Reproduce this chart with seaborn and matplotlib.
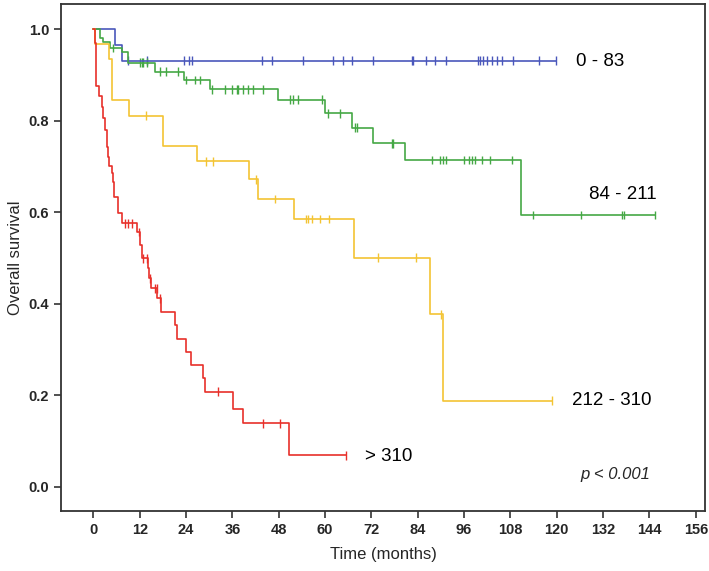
import numpy as np
import pandas as pd
import matplotlib
matplotlib.use('Agg')
import matplotlib.pyplot as plt
import seaborn as sns

GROUPS = ['0 - 83', '84 - 211', '212 - 310', '> 310']
COLORS = ['#4a57bb', '#45a845', '#f3c433', '#e8302a']

# step events: time of drop (months) and survival after the drop
blue_times  = [5.6, 7.3]
blue_surv   = [0.966, 0.931]
blue_censor = [8.9, 13.9, 23.4, 24.7, 25.5, 43.7, 46.2, 54.3, 62.0, 64.6, 67.0,
               72.4, 82.6, 82.8, 86.2, 88.5, 91.3, 99.7, 100.1, 101.0, 102.0,
               103.2, 104.5, 105.8, 108.6, 115.5, 119.8]

green_times  = [1.7, 2.5, 4.3, 7.4, 8.9, 15.9, 23.4, 30.2, 47.7, 60.0, 67.0,
                72.3, 80.7, 110.8]
green_surv   = [0.981, 0.972, 0.959, 0.951, 0.927, 0.907, 0.889, 0.869, 0.846,
                0.816, 0.785, 0.751, 0.714, 0.594]
green_censor = [5.1, 12.0, 12.5, 12.9, 13.9, 17.2, 18.8, 22.0, 24.0, 26.3, 27.6,
                30.6, 34.1, 35.8, 37.1, 37.4, 38.8, 40.1, 41.4, 43.8, 50.9, 51.8,
                53.1, 59.1, 60.8, 63.9, 67.7, 68.2, 77.3, 77.7, 87.8, 89.8, 90.5,
                91.2, 96.0, 97.4, 98.0, 98.8, 100.6, 102.7, 108.3, 113.9, 126.3,
                136.8, 137.4, 145.5]

yellow_times  = [0.3, 4.1, 4.8, 9.2, 18.1, 26.7, 40.4, 42.5, 52.0, 67.5, 87.2, 90.5]
yellow_surv   = [0.968, 0.934, 0.845, 0.811, 0.745, 0.711, 0.672, 0.629, 0.585,
                 0.501, 0.377, 0.188]
yellow_censor = [13.6, 29.1, 30.9, 42.1, 47.0, 55.1, 55.5, 56.5, 58.7, 61.0, 73.8,
                 83.5, 89.9, 118.7]

red_times  = [0.3, 0.6, 0.8, 1.5, 2.1, 2.6, 3.0, 3.4, 3.8, 4.1, 4.7, 5.1, 5.4,
              6.3, 7.3, 11.4, 12.0, 12.5, 14.2, 14.5, 14.8, 16.5, 17.4, 21.1,
              21.7, 24.1, 25.4, 28.5, 29.0, 36.1, 38.8, 50.6]
red_surv   = [0.970, 0.930, 0.876, 0.853, 0.831, 0.805, 0.780, 0.743, 0.720,
              0.700, 0.685, 0.667, 0.634, 0.598, 0.576, 0.557, 0.528, 0.499,
              0.478, 0.456, 0.434, 0.412, 0.383, 0.354, 0.324, 0.295, 0.266,
              0.237, 0.208, 0.171, 0.139, 0.069]
red_censor = [8.2, 9.0, 9.9, 11.8, 12.9, 13.8, 14.6, 15.9, 16.4, 17.2, 32.2,
              43.8, 48.4, 65.4]

group_data = [
    (blue_times, blue_surv, blue_censor),
    (green_times, green_surv, green_censor),
    (yellow_times, yellow_surv, yellow_censor),
    (red_times, red_surv, red_censor),
]

# label positions (time, survival)
label_pos = [(125.0, 0.929), (128.4, 0.638), (123.9, 0.188), (70.3, 0.067)]


def step_value(times, surv, t):
    idx = np.searchsorted(times, t, side='right')
    return 1.0 if idx == 0 else surv[idx - 1]


line_rows, cens_rows = [], []
for g, (times, surv, cens) in zip(GROUPS, group_data):
    end = max(max(cens), max(times))
    xs = [0.0] + list(times) + [end]
    ys = [1.0] + list(surv) + [surv[-1]]
    for i, (x, y) in enumerate(zip(xs, ys)):
        line_rows.append({'group': g, 'time': x, 'surv': y, 'order': i})
    for c in cens:
        cens_rows.append({'group': g, 'time': c, 'surv': step_value(times, surv, c)})

lines = pd.DataFrame(line_rows)
censored = pd.DataFrame(cens_rows)

sns.set_style('white')
plt.rcParams['font.family'] = ['Liberation Sans', 'DejaVu Sans']

fig = plt.figure(figsize=(7.09, 5.71), dpi=100)
ax = fig.add_axes([0.086, 0.105, 0.9084, 0.888])

palette = dict(zip(GROUPS, COLORS))
sns.lineplot(data=lines, x='time', y='surv', hue='group', palette=palette,
             estimator=None, sort=False, drawstyle='steps-post', lw=1.2,
             legend=False, ax=ax)
sns.scatterplot(data=censored, x='time', y='surv', hue='group', palette=palette,
                marker='|', s=40, linewidth=1.0, legend=False, ax=ax)

for g, (tx, ty) in zip(GROUPS, label_pos):
    ax.text(tx, ty, g, fontsize=13.5, va='center', ha='left', color='black')
ax.text(126.2, 0.026, 'p < 0.001', fontsize=12, style='italic', va='center',
        ha='left')

ax.set_xlim(-8.4, 158.4)
ax.set_ylim(-0.053, 1.055)
ax.set_xticks(np.arange(0, 157, 12))
ax.set_yticks(np.arange(0, 1.01, 0.2))
ax.set_yticklabels([f'{v:.1f}' for v in np.arange(0, 1.01, 0.2)])
ax.tick_params(axis='both', direction='out', length=5, width=1.2, color='#333333',
               labelsize=10.5, bottom=True, left=True)
for lbl in ax.get_xticklabels() + ax.get_yticklabels():
    lbl.set_fontweight('bold')
for sp in ax.spines.values():
    sp.set_color('#333333')
    sp.set_linewidth(1.3)

ax.set_xlabel('Time (months)', fontsize=12, labelpad=7)
ax.set_ylabel('Overall survival', fontsize=12, labelpad=4)

fig.savefig('out.png', dpi=100)
